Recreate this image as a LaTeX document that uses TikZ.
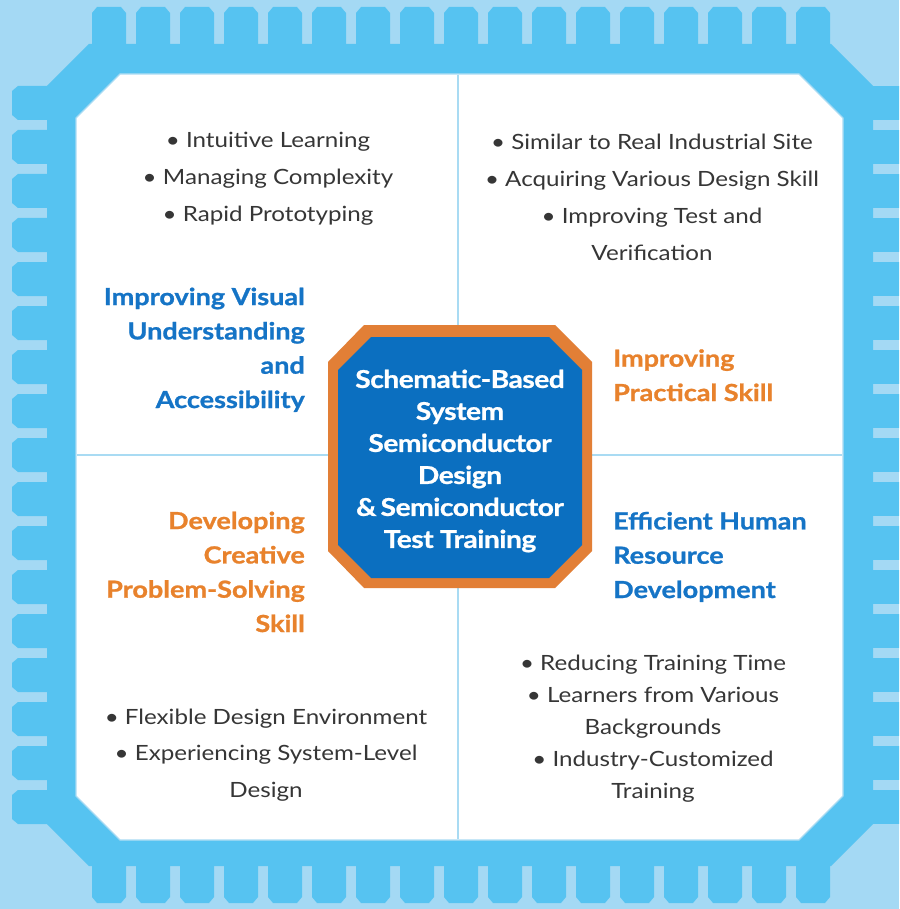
\documentclass[tikz,border=0pt]{standalone}
\usepackage{fontspec}
\setmainfont{Lato}[FakeStretch=1.15, BoldFeatures={FakeBold=1}]
\newfontfamily\corefont{Lato}[FakeStretch=1.15, LetterSpace=-2, BoldFeatures={FakeBold=1}]
\usepackage{xcolor}

\definecolor{bgblue}{HTML}{A4D9F4}
\definecolor{chipblue}{HTML}{56C3F1}
\definecolor{lineblue}{HTML}{A9DBF3}
\definecolor{coreblue}{HTML}{0B6FC0}
\definecolor{coreorange}{HTML}{E27F36}
\definecolor{headblue}{HTML}{1574C6}
\definecolor{headorange}{HTML}{E8822C}
\definecolor{textgray}{HTML}{363636}

\begin{document}
\begin{tikzpicture}[x=1pt, y=-1pt,
		bullets/.style={anchor=base, align=center, inner sep=0pt, text=textgray},
		heading/.style={inner sep=0pt, font=\bfseries\fontsize{23.5}{34.3}\selectfont},
		headleft/.style={heading, anchor=base west, align=left},
		headright/.style={heading, anchor=base east, align=right}
	]
				\clip (0,0) rectangle (899,909);
				\fill[bgblue] (0,0) rectangle (899,909);
				\fill[chipblue] (47,86) -- (89,44) -- (831,44) -- (873,86) -- (873,824) -- (831,866) -- (89,866) -- (47,824) -- cycle;
				\foreach \i in {0,...,16} {
					\pgfmathsetmacro\p{92+44*\i}
					\pgfmathsetmacro\q{86+44*\i}
					\fill[chipblue] (\p,46) -- (\p,13) -- (\p+5,7) -- (\p+29,7) -- (\p+34,13) -- (\p+34,46) -- cycle;
					\fill[chipblue] (\p,864) -- (\p,897) -- (\p+5,903) -- (\p+29,903) -- (\p+34,897) -- (\p+34,864) -- cycle;
					\fill[chipblue] (49,\q) -- (18,\q) -- (12,\q+5) -- (12,\q+29) -- (18,\q+34) -- (49,\q+34) -- cycle;
					\fill[chipblue] (871,\q) rectangle (905,\q+34);
				}
				\draw[lineblue, line width=1.2pt, fill=white] (76,118) -- (120,74) -- (799,74) -- (843,118) -- (843,796) -- (799,840) -- (120,840) -- (76,796) -- cycle;
				\draw[lineblue, line width=2pt] (458,75) -- (458,839);
				\draw[lineblue, line width=2pt] (77,455) -- (842,455);
				\fill[coreorange] (328,362) -- (364,325) -- (555,325) -- (592,362) -- (592,551) -- (555,588) -- (364,588) -- (328,551) -- cycle;
				\fill[coreblue] (338,370) -- (371,337) -- (549,337) -- (582,370) -- (582,545) -- (549,578) -- (371,578) -- (338,545) -- cycle;
				\node[align=center, text=white, inner sep=0pt, font=\corefont\bfseries\fontsize{24.5}{32}\selectfont] (core) at (460,461)
					{Schematic-Based\\System\\Semiconductor\\Design\\\&\,Semiconductor\\Test Training};
				\node[headright, text=headblue] (visual) at (305,408) {Improving Visual\\Understanding\\and\\Accessibility};
				\node[headleft, text=headorange] (practical) at (613,401) {Improving\\Practical Skill};
				\node[headright, text=headorange] (creative) at (305,632) {Developing\\Creative\\Problem-Solving\\Skill};
				\node[headleft, text=headblue] (human) at (613,598) {Efficient Human\\Resource\\Development};
				\node[bullets, font=\fontsize{21}{37}\selectfont] (visualpts) at (268,222)
					{• Intuitive Learning\\• Managing Complexity\\• Rapid Prototyping};
				\node[bullets, font=\fontsize{21}{37}\selectfont] (practicalpts) at (652,260)
					{• Similar to Real Industrial Site\\• Acquiring Various Design Skill\\• Improving Test and\\Verification};
				\node[bullets, font=\fontsize{21}{36.5}\selectfont] (creativepts) at (266,797)
					{• Flexible Design Environment\\• Experiencing System-Level\\Design};
				\node[bullets, font=\fontsize{21}{32}\selectfont] (humanpts) at (653,798)
					{• Reducing Training Time\\• Learners from Various\\Backgrounds\\• Industry-Customized\\Training};
			\end{tikzpicture}
\end{document}
